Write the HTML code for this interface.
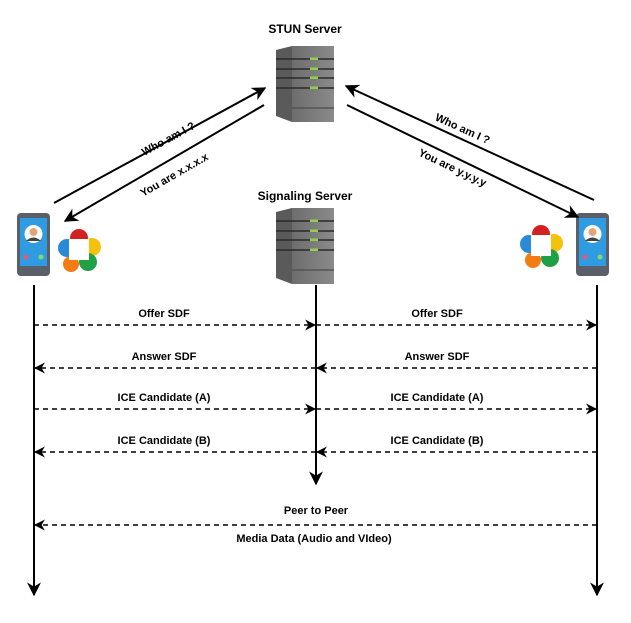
<!DOCTYPE html>
<html><head><meta charset="utf-8"><style>
html,body{margin:0;padding:0;background:#fff;}
svg{display:block;font-family:"Liberation Sans",Arial,sans-serif;}
</style></head><body>
<svg width="631" height="623" viewBox="0 0 631 623" xmlns="http://www.w3.org/2000/svg">
<defs>
<marker id="a" viewBox="0 0 10 10" refX="9" refY="5" markerWidth="11" markerHeight="11" markerUnits="userSpaceOnUse" orient="auto">
<path d="M0,0 L10,5 L0,10 L3,5 Z" fill="#000"/></marker>
<marker id="b" viewBox="0 0 10 10" refX="9" refY="5" markerWidth="14" markerHeight="14" markerUnits="userSpaceOnUse" orient="auto">
<path d="M0,0 L10,5 L0,10 L3,5 Z" fill="#000"/></marker>
<linearGradient id="sv" x1="0" x2="1"><stop offset="0" stop-color="#6d6d6d"/><stop offset="1" stop-color="#8a8a8a"/></linearGradient>
<g id="server">
<path d="M0,4 L16,0 L58,0 L58,72 L16,76 L0,70 Z" fill="#5a5a5a"/>
<rect x="16" y="0" width="42" height="76" fill="url(#sv)"/>
<g stroke="#2a2a2a" stroke-width="1.5">
<line x1="0" y1="13" x2="58" y2="13"/><line x1="0" y1="23" x2="58" y2="23"/>
<line x1="0" y1="32" x2="58" y2="32"/><line x1="0" y1="42" x2="58" y2="42"/>
<line x1="16" y1="62" x2="58" y2="62" stroke="#555"/></g>
<g fill="#8fd14f"><rect x="34" y="11.5" width="8" height="2.5"/><rect x="34" y="21.5" width="8" height="2.5"/><rect x="34" y="30.5" width="8" height="2.5"/><rect x="34" y="40.5" width="8" height="2.5"/></g>
</g>
<g id="phone">
<rect x="0" y="0" width="33" height="63" rx="4" fill="#5a5f6a"/>
<rect x="3" y="5" width="27" height="48" fill="#2f9be0"/>
<circle cx="16.5" cy="21" r="9" fill="#fff"/>
<circle cx="16.5" cy="19" r="4" fill="#e0a67c"/>
<path d="M9,28 Q16.5,21 24,28 Z" fill="#444"/>
<circle cx="9" cy="44" r="2.5" fill="#e05a7a"/><circle cx="24" cy="44" r="2.5" fill="#7ddc6a"/>
</g>
<g id="logo">
<circle cx="19" cy="8" r="9" fill="#d32020"/>
<circle cx="32" cy="17" r="9" fill="#f4c20d"/>
<circle cx="28" cy="32" r="9" fill="#1fa045"/>
<circle cx="11" cy="34" r="8" fill="#f27b13"/>
<circle cx="7" cy="18" r="9" fill="#2a8ad8"/>
<rect x="9" y="9" width="20" height="21" fill="#fff"/>
</g>
</defs>

<text x="305" y="33" font-size="12" font-weight="bold" text-anchor="middle">STUN Server</text>
<use href="#server" x="276" y="46"/>
<text x="305" y="200" font-size="12" font-weight="bold" text-anchor="middle">Signaling Server</text>
<use href="#server" x="276" y="208"/>

<use href="#phone" x="17" y="213"/>
<use href="#phone" x="576" y="213"/>
<use href="#logo" x="60" y="230"/>
<use href="#logo" x="522" y="226"/>

<g stroke="#000" stroke-width="2" fill="none">
<line x1="54" y1="203" x2="265" y2="88" marker-end="url(#b)"/>
<line x1="264" y1="105" x2="65" y2="221" marker-end="url(#b)"/>
<line x1="594" y1="200" x2="346" y2="86" marker-end="url(#b)"/>
<line x1="347" y1="105" x2="578" y2="217" marker-end="url(#b)"/>
</g>
<g font-size="11" font-weight="bold">
<text transform="translate(170,142) rotate(-28.5)" text-anchor="middle">Who am I ?</text>
<text transform="translate(176,178) rotate(-30)" text-anchor="middle">You are x.x.x.x</text>
<text transform="translate(461,132) rotate(24.5)" text-anchor="middle">Who am I ?</text>
<text transform="translate(451,171) rotate(25.5)" text-anchor="middle">You are y.y.y.y</text>
</g>

<g stroke="#000" stroke-width="2" fill="none">
<line x1="34" y1="285" x2="34" y2="595" marker-end="url(#b)"/>
<line x1="316" y1="285" x2="316" y2="484" marker-end="url(#b)"/>
<line x1="597" y1="285" x2="597" y2="595" marker-end="url(#b)"/>
</g>
<g stroke="#000" stroke-width="1.6" fill="none" stroke-dasharray="5,4">
<line x1="34" y1="325" x2="315" y2="325" marker-end="url(#a)"/>
<line x1="316" y1="325" x2="596" y2="325" marker-end="url(#a)"/>
<line x1="316" y1="368" x2="35" y2="368" marker-end="url(#a)"/>
<line x1="597" y1="368" x2="317" y2="368" marker-end="url(#a)"/>
<line x1="34" y1="409" x2="315" y2="409" marker-end="url(#a)"/>
<line x1="316" y1="409" x2="596" y2="409" marker-end="url(#a)"/>
<line x1="316" y1="452" x2="35" y2="452" marker-end="url(#a)"/>
<line x1="597" y1="452" x2="317" y2="452" marker-end="url(#a)"/>
<line x1="597" y1="525" x2="35" y2="525" marker-end="url(#a)"/>
</g>
<g font-size="11" font-weight="bold" text-anchor="middle">
<text x="164" y="317">Offer SDF</text><text x="437" y="317">Offer SDF</text>
<text x="164" y="360">Answer SDF</text><text x="437" y="360">Answer SDF</text>
<text x="164" y="401">ICE Candidate (A)</text><text x="437" y="401">ICE Candidate (A)</text>
<text x="164" y="444">ICE Candidate (B)</text><text x="437" y="444">ICE Candidate (B)</text>
<text x="316" y="514">Peer to Peer</text>
<text x="314" y="542">Media Data (Audio and VIdeo)</text>
</g>
</svg>
</body></html>
